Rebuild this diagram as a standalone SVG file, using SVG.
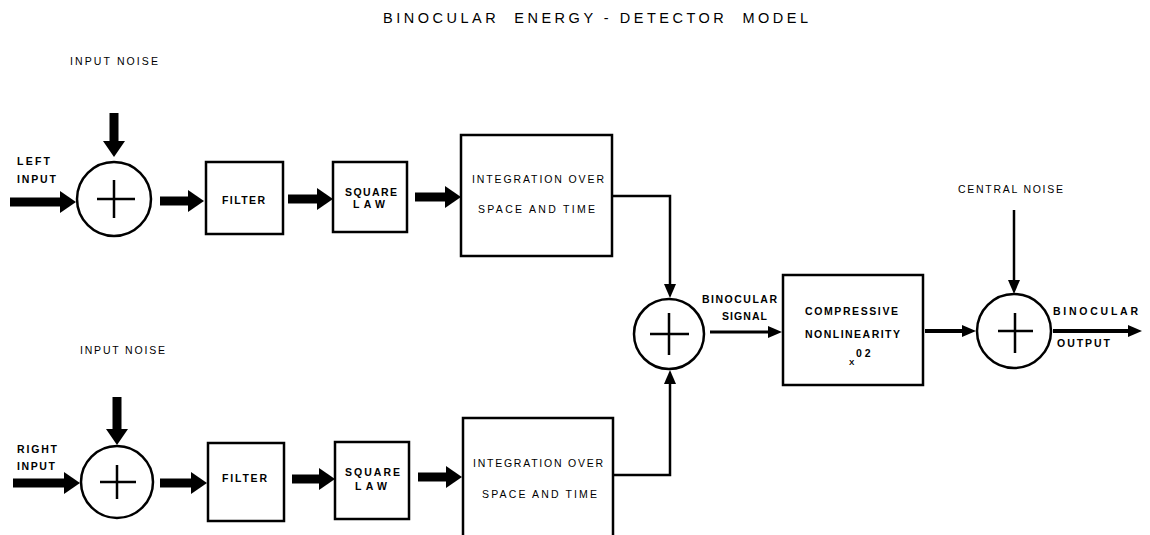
<svg xmlns="http://www.w3.org/2000/svg" width="1150" height="535" viewBox="0 0 1150 535">
<defs>
<marker id="thick" viewBox="0 0 16 22" refX="0" refY="11" markerWidth="16" markerHeight="22" markerUnits="userSpaceOnUse" orient="auto"><path d="M0,0 L16,11 L0,22 z" fill="#000"/></marker>
<marker id="thin" viewBox="0 0 14 12" refX="0" refY="6" markerWidth="14" markerHeight="12" markerUnits="userSpaceOnUse" orient="auto"><path d="M0,0 L14,6 L0,12 z" fill="#000"/></marker>
</defs>
<style>
text{font-family:"Liberation Sans",Arial,sans-serif;fill:#000;font-size:10.5px;font-weight:bold}
.n{font-weight:normal}
.title{font-size:14.5px;font-weight:normal}
.small{font-size:8px}
.box{fill:#fff;stroke:#000;stroke-width:2.5}
.sum{fill:#fff;stroke:#000;stroke-width:2.5}
.plus{stroke:#000;stroke-width:2.5;fill:none}
.tk{stroke:#000;stroke-width:9;fill:none;marker-end:url(#thick)}
.tn{stroke:#000;stroke-width:2.5;fill:none;marker-end:url(#thin)}
.tm{stroke:#000;stroke-width:4;fill:none;marker-end:url(#thin)}
</style>
<rect width="1150" height="535" fill="#fff"/>
<text class="title" x="383" y="23" textLength="425" lengthAdjust="spacing" xml:space="preserve">BINOCULAR  ENERGY - DETECTOR  MODEL</text>

<g id="connectors">
<line class="tk" x1="10" y1="202" x2="60" y2="202"/>
<line class="tk" x1="114" y1="113" x2="114" y2="141"/>
<line class="tk" x1="160" y1="201" x2="188" y2="201"/>
<line class="tk" x1="288" y1="199" x2="317" y2="199"/>
<line class="tk" x1="415" y1="197" x2="445" y2="197"/>
<line class="tk" x1="13" y1="483" x2="64" y2="483"/>
<line class="tk" x1="117" y1="397" x2="117" y2="429"/>
<line class="tk" x1="160" y1="483" x2="191" y2="483"/>
<line class="tk" x1="292" y1="479" x2="319" y2="479"/>
<line class="tk" x1="418" y1="477" x2="446" y2="477"/>
<path class="tn" d="M612,196 H670 V284"/>
<path class="tn" d="M613,475 H670 V384"/>
<line class="tn" x1="710" y1="332" x2="768" y2="332" style="stroke-width:3"/>
<line class="tm" x1="925" y1="331" x2="962" y2="331"/>
<line class="tn" x1="1014" y1="210" x2="1014" y2="280"/>
<line class="tm" x1="1053" y1="331" x2="1128" y2="331"/>
</g>

<g id="sum-left">
<circle class="sum" cx="114" cy="199" r="37"/>
<path class="plus" d="M97,199 H135 M114,180 V218"/>
</g>
<g id="sum-right">
<circle class="sum" cx="117" cy="482" r="36"/>
<path class="plus" d="M100,482 H136 M117,465 V499"/>
</g>
<g id="sum-binocular">
<circle class="sum" cx="669" cy="334" r="35"/>
<path class="plus" d="M650,334 H689 M669,313 V355"/>
</g>
<g id="sum-central">
<circle class="sum" cx="1014" cy="331" r="37"/>
<path class="plus" d="M998,331 H1033 M1015,313 V353"/>
</g>

<g id="filter-left">
<rect class="box" x="206" y="162" width="77" height="72"/>
<text x="222" y="204" textLength="43" lengthAdjust="spacing">FILTER</text>
</g>
<g id="square-left">
<rect class="box" x="333" y="162" width="74" height="70"/>
<text x="345" y="196" textLength="52" lengthAdjust="spacing">SQUARE</text>
<text x="353" y="208" textLength="32" lengthAdjust="spacing">LAW</text>
</g>
<g id="integ-left">
<rect class="box" x="461" y="135" width="151" height="121"/>
<text class="n" x="472" y="183" textLength="132" lengthAdjust="spacing">INTEGRATION OVER</text>
<text class="n" x="478" y="213" textLength="117" lengthAdjust="spacing">SPACE AND TIME</text>
</g>
<g id="filter-right">
<rect class="box" x="208" y="443" width="76" height="78"/>
<text x="222" y="482" textLength="45" lengthAdjust="spacing">FILTER</text>
</g>
<g id="square-right">
<rect class="box" x="335" y="442" width="74" height="77"/>
<text x="345" y="476" textLength="55" lengthAdjust="spacing">SQUARE</text>
<text x="355" y="490" textLength="32" lengthAdjust="spacing">LAW</text>
</g>
<g id="integ-right">
<path class="box" d="M463,540 V418 H613 V540"/>
<text class="n" x="473" y="467" textLength="130" lengthAdjust="spacing">INTEGRATION OVER</text>
<text class="n" x="482" y="498" textLength="115" lengthAdjust="spacing">SPACE AND TIME</text>
</g>
<g id="compressive">
<rect class="box" x="783" y="275" width="140" height="110"/>
<text x="805" y="315" textLength="93" lengthAdjust="spacing">COMPRESSIVE</text>
<text x="805" y="338" textLength="95" lengthAdjust="spacing">NONLINEARITY</text>
<text class="small" x="849" y="365">X</text>
<text x="856" y="357" xml:space="preserve">0 2</text>
</g>

<g id="labels">
<text class="n" x="70" y="65" textLength="88" lengthAdjust="spacing">INPUT NOISE</text>
<text x="17" y="165" textLength="33" lengthAdjust="spacing">LEFT</text>
<text x="17" y="183" textLength="39" lengthAdjust="spacing">INPUT</text>
<text class="n" x="80" y="354" textLength="85" lengthAdjust="spacing">INPUT NOISE</text>
<text x="17" y="453" textLength="40" lengthAdjust="spacing">RIGHT</text>
<text x="17" y="470" textLength="38" lengthAdjust="spacing">INPUT</text>
<text x="702" y="303" textLength="75" lengthAdjust="spacing">BINOCULAR</text>
<text x="722" y="320" textLength="45" lengthAdjust="spacing">SIGNAL</text>
<text class="n" x="958" y="193" textLength="105" lengthAdjust="spacing">CENTRAL NOISE</text>
<text x="1053" y="315" textLength="85" lengthAdjust="spacing">BINOCULAR</text>
<text x="1057" y="347" textLength="53" lengthAdjust="spacing">OUTPUT</text>
</g>
</svg>
